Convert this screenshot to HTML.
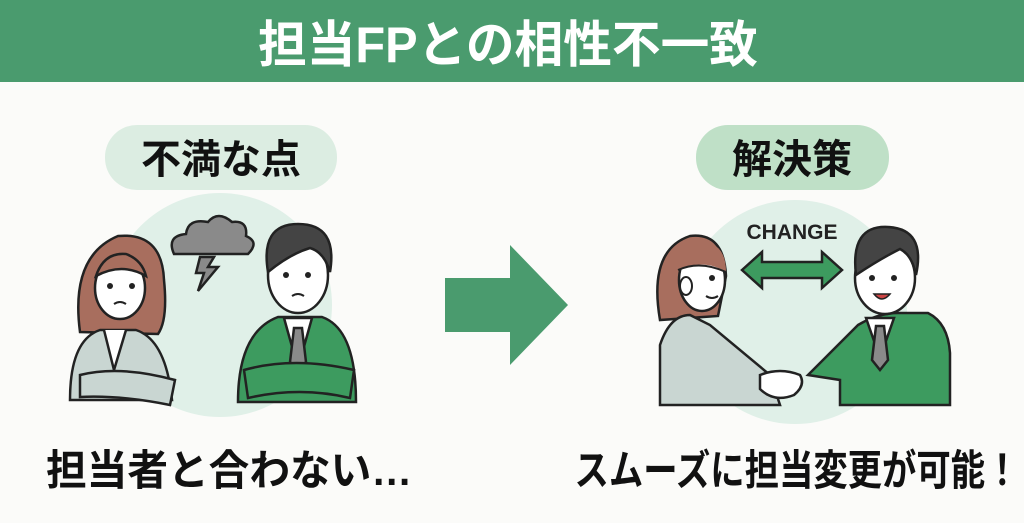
<!DOCTYPE html>
<html><head><meta charset="utf-8"><style>
html,body{margin:0;padding:0;background:#fbfbf9;}
svg{display:block;}
text{font-family:"Liberation Sans","Noto Sans CJK JP",sans-serif;font-weight:bold;}
</style></head><body>
<svg width="1024" height="523" viewBox="0 0 1024 523" xmlns="http://www.w3.org/2000/svg">
<rect x="0" y="0" width="1024" height="523" fill="#fbfbf9"/>
<rect x="0" y="0" width="1024" height="82" fill="#4a9b6e"/>
<text x="508" y="62" font-size="50" fill="#fff" text-anchor="middle" textLength="500" lengthAdjust="spacingAndGlyphs">担当FPとの相性不一致</text>

<rect x="105" y="125" width="232" height="65" rx="32" fill="#dcede2"/>
<text x="221" y="173" font-size="40" fill="#111" text-anchor="middle">不満な点</text>
<rect x="696" y="125" width="193" height="65" rx="32" fill="#bfe0c7"/>
<text x="792" y="173" font-size="40" fill="#111" text-anchor="middle">解決策</text>

<circle cx="220" cy="305" r="112" fill="#e0f0e8"/>
<circle cx="795" cy="312" r="112" fill="#e0f0e8"/>

<!-- cloud -->
<g stroke="#222" stroke-width="2.5" fill="#8a8a8a">
<path d="M174 254 q-8 -18 12 -20 q2 -16 22 -12 q10 -12 24 0 q16 -2 14 14 q14 6 2 18 z"/>
<path d="M200 257 l14 0 l-6 10 l10 0 l-20 24 l6 -18 l-8 0 z"/>
</g>

<!-- left woman -->
<g stroke="#222" stroke-width="2.5">
<path d="M80 332 q-10 -76 38 -96 q44 -4 46 44 q4 40 -6 54 z" fill="#a86e5e"/>
<path d="M70 400 q0 -60 30 -70 l36 0 q30 10 36 70 z" fill="#c9d6d2"/>
<path d="M104 330 l10 40 l12 -40" fill="#fff"/>
<ellipse cx="120" cy="288" rx="25" ry="31" fill="#fff"/>
<path d="M96 276 q8 -24 30 -22 q16 6 20 22 q-24 -14 -50 0 z" fill="#a86e5e"/>
<path d="M80 375 q40 -10 95 5 l-5 25 q-50 -10 -90 -8 z" fill="#c9d6d2"/>
</g>
<circle cx="110" cy="286" r="3" fill="#222"/><circle cx="132" cy="286" r="3" fill="#222"/>
<path d="M114 304 q6 -4 12 0" stroke="#222" stroke-width="2" fill="none"/>

<!-- left man -->
<g stroke="#222" stroke-width="2.5">
<path d="M238 402 q0 -70 40 -85 l44 0 q34 12 34 85 z" fill="#3d9b5f"/>
<path d="M284 318 l14 50 l14 -50 z" fill="#fff"/>
<path d="M294 328 l8 0 l4 34 l-8 8 l-8 -8 z" fill="#8a8a8a"/>
<ellipse cx="298" cy="275" rx="30" ry="38" fill="#fff"/>
<path d="M268 272 q-8 -48 30 -48 q40 0 32 48 q-6 -20 -20 -24 q-20 6 -42 24 z" fill="#444"/>
<path d="M244 370 q50 -14 110 0 l-4 28 q-50 -12 -102 0 z" fill="#3d9b5f"/>
</g>
<circle cx="286" cy="275" r="3" fill="#222"/><circle cx="308" cy="275" r="3" fill="#222"/>
<path d="M292 296 q6 -4 12 0" stroke="#222" stroke-width="2" fill="none"/>

<!-- big arrow -->
<path d="M445 278 L510 278 L510 245 L568 305 L510 365 L510 332 L445 332 Z" fill="#4a9b6e"/>

<!-- change -->
<text x="792" y="239" font-size="21" fill="#222" text-anchor="middle">CHANGE</text>
<path d="M742 270 l20 -18 l0 10 l60 0 l0 -10 l20 18 l-20 18 l0 -10 l-60 0 l0 10 z" fill="#3d9b5f" stroke="#222" stroke-width="2.5"/>

<!-- right woman -->
<g stroke="#222" stroke-width="2.5">
<path d="M660 320 q-12 -70 30 -84 q34 -4 36 40 l-8 40 z" fill="#a86e5e"/>
<path d="M660 405 l0 -60 q10 -30 30 -30 l20 10 l60 50 l10 30 z" fill="#c9d6d2"/>
<ellipse cx="702" cy="280" rx="23" ry="31" fill="#fff"/>
</g>
<path d="M678 270 q6 -28 34 -26 q14 6 14 28 q-22 -14 -48 -2 z" fill="#a86e5e"/>
<path d="M678 270 q22 -10 48 2" stroke="#222" stroke-width="2" fill="none"/>
<ellipse cx="686" cy="286" rx="6" ry="9" fill="#fff" stroke="#222" stroke-width="2"/>
<path d="M760 375 q20 -8 40 0 q6 10 -6 20 q-20 8 -34 -6 z" fill="#fff" stroke="#222" stroke-width="2.5"/>
<circle cx="712" cy="278" r="3" fill="#222"/>
<path d="M706 296 q6 4 12 0" stroke="#222" stroke-width="2" fill="none"/>

<!-- right man -->
<g stroke="#222" stroke-width="2.5">
<path d="M808 375 l50 -50 q20 -12 40 -12 l30 0 q20 10 22 40 l0 52 l-110 0 l0 -25 z" fill="#3d9b5f"/>
<path d="M866 318 l14 40 l14 -40 z" fill="#fff"/>
<path d="M876 326 l8 0 l4 34 l-8 10 l-8 -10 z" fill="#8a8a8a"/>
<ellipse cx="885" cy="278" rx="30" ry="36" fill="#fff"/>
<path d="M856 275 q-6 -50 32 -48 q38 2 28 48 q-4 -20 -16 -26 q-20 10 -44 26 z" fill="#444"/>
</g>
<circle cx="872" cy="278" r="3" fill="#222"/><circle cx="894" cy="278" r="3" fill="#222"/>
<path d="M874 294 q8 10 16 0 z" fill="#c44" stroke="#222" stroke-width="1.5"/>

<text x="229" y="485" font-size="42" fill="#111" text-anchor="middle" textLength="366" lengthAdjust="spacingAndGlyphs">担当者と合わない…</text>
<text x="797" y="485" font-size="42" fill="#111" text-anchor="middle" textLength="445" lengthAdjust="spacingAndGlyphs">スムーズに担当変更が可能！</text>
</svg>
</body></html>
